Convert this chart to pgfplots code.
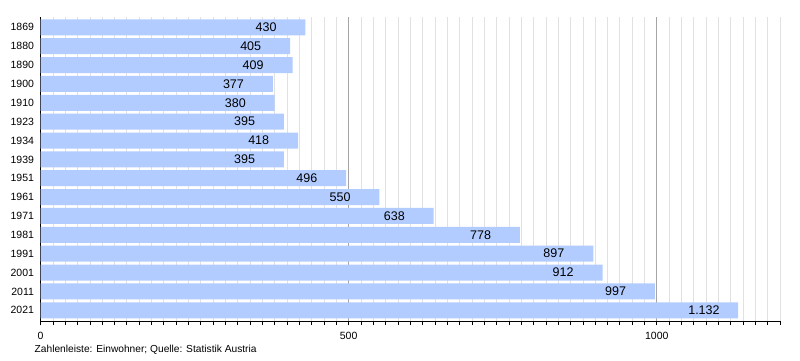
\documentclass[border=0pt]{standalone}
\usepackage{pgfplots}
\pgfplotsset{compat=1.18}
\usepackage{pgfplotstable}
\usepackage{fontspec}
\setmainfont{Liberation Sans}
\definecolor{barblue}{RGB}{179,204,255}
\definecolor{mingrid}{RGB}{225,225,225}
\definecolor{majgrid}{RGB}{165,165,165}
\pgfplotstableread{
y x lab
0 430 430
1 405 405
2 409 409
3 377 377
4 380 380
5 395 395
6 418 418
7 395 395
8 496 496
9 550 550
10 638 638
11 778 778
12 897 897
13 912 912
14 997 997
15 1132 1.132
}\data
\begin{document}
\begin{tikzpicture}
\path[use as bounding box] (0,0) rectangle (800pt,360pt);
\begin{axis}[
  at={(40.5pt,39pt)}, anchor=south west,
  scale only axis, width=739.5pt, height=304pt,
  xmin=0, xmax=1200,
  ymin=-0.55, ymax=15.57, y dir=reverse,
  xbar, bar width=16pt,
  axis x line*=bottom, axis y line*=left,
  axis line style={-, black, line width=0.8pt},
  xtick={0,500,1000},
  minor xtick={0,20,...,1200},
  xmajorgrids, xminorgrids,
  major grid style={majgrid, line width=0.6pt},
  minor grid style={mingrid, line width=0.6pt},
  tick align=outside,
  major tick length=4pt, minor tick length=4pt,
  x tick style={black, line width=0.6pt},
  ytick={0,...,15},
  yticklabels={1869,1880,1890,1900,1910,1923,1934,1939,1951,1961,1971,1981,1991,2001,2011,2021},
  y tick style={draw=none},
  yticklabel style={font=\fontsize{10.5}{12}\selectfont, xshift=1pt},
  xticklabel style={font=\fontsize{10.5}{12}\selectfont, yshift=-4pt},
  /pgf/number format/.cd, 1000 sep={}, assume math mode=true, /pgfplots/.cd,
  point meta=explicit symbolic,
  nodes near coords,
  every node near coord/.append style={anchor=west, xshift=-50pt, font=\fontsize{12.5}{14}\selectfont, inner sep=0pt},
  clip=false,
]
\addplot[draw=none, fill=barblue] table[x=x, y=y, meta=lab] {\data};
\end{axis}
\node[anchor=west, inner sep=0pt, font=\fontsize{10.2}{12}\selectfont] at (34.5pt,10pt) {Zahlenleiste: Einwohner; Quelle: Statistik Austria};
\end{tikzpicture}
\end{document}
